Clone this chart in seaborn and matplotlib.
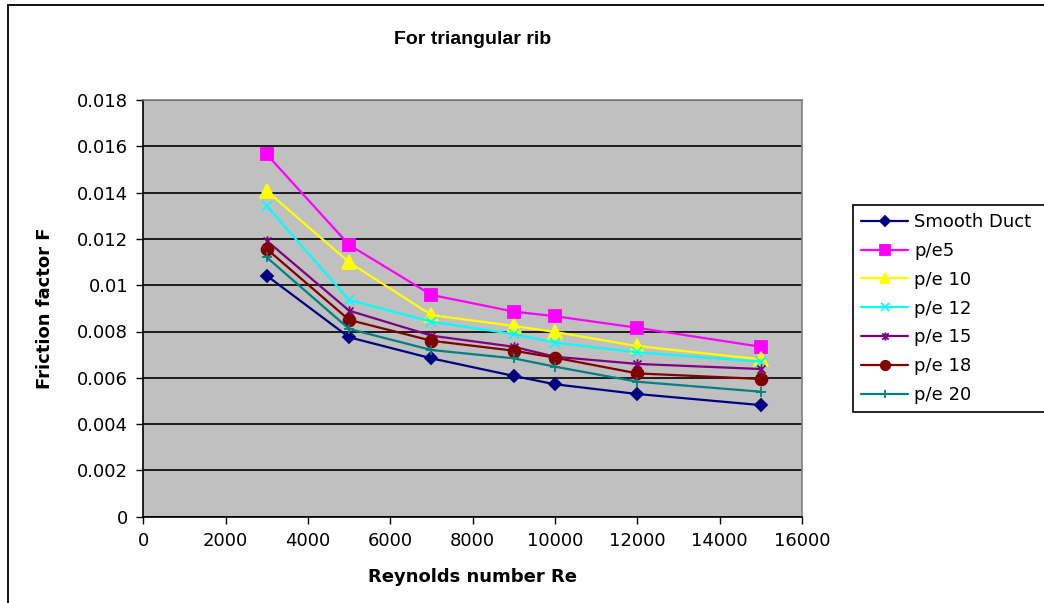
import matplotlib
matplotlib.use("Agg")
import matplotlib.pyplot as plt
import numpy as np
import pandas as pd
import seaborn as sns
from matplotlib.patches import Rectangle
from matplotlib.path import Path

# ---- data ----
reynolds = [3000, 5000, 7000, 9000, 10000, 12000, 15000]
smooth_duct = [0.01041, 0.00775, 0.00684, 0.00608, 0.00572, 0.00530, 0.00482]
pe5 = [0.01565, 0.01174, 0.00958, 0.00886, 0.00866, 0.00816, 0.00734]
pe10 = [0.01407, 0.01099, 0.00871, 0.00824, 0.00798, 0.00737, 0.00680]
pe12 = [0.01342, 0.00936, 0.00842, 0.00789, 0.00752, 0.00710, 0.00670]
pe15 = [0.01192, 0.00890, 0.00782, 0.00734, 0.00691, 0.00660, 0.00638]
pe18 = [0.01156, 0.00850, 0.00760, 0.00717, 0.00687, 0.00619, 0.00595]
pe20 = [0.01120, 0.00811, 0.00720, 0.00684, 0.00648, 0.00583, 0.00540]

series_names = ["Smooth Duct", "p/e5", "p/e 10", "p/e 12", "p/e 15", "p/e 18", "p/e 20"]
series_values = [smooth_duct, pe5, pe10, pe12, pe15, pe18, pe20]
colors = ["#000080", "#FF00FF", "#FFFF00", "#00FFFF", "#800080", "#800000", "#008080"]

x_ticks = [0, 2000, 4000, 6000, 8000, 10000, 12000, 14000, 16000]
x_tick_labels = ["0", "2000", "4000", "6000", "8000", "10000", "12000", "14000", "16000"]
y_ticks = [0, 0.002, 0.004, 0.006, 0.008, 0.01, 0.012, 0.014, 0.016, 0.018]
y_tick_labels = ["0", "0.002", "0.004", "0.006", "0.008", "0.01", "0.012", "0.014", "0.016", "0.018"]

title = "For triangular rib"
x_label = "Reynolds number Re"
y_label = "Friction factor F"

sns.set_theme(style="ticks")
plt.rcParams["font.family"] = ["DejaVu Sans"]
plt.rcParams["text.color"] = "black"
plt.rcParams["axes.labelcolor"] = "black"
plt.rcParams["xtick.color"] = "black"
plt.rcParams["ytick.color"] = "black"

W, H = 1044, 603
fig = plt.figure(figsize=(W / 100, H / 100), dpi=100)
fig.patch.set_facecolor("white")
L, R, T, B = 143.3, 802.0, 100.0, 516.7
ax = fig.add_axes([L / W, 1 - B / H, (R - L) / W, (B - T) / H])

asterisk = Path([(-1, -1), (1, 1), (-1, 1), (1, -1), (0, -1.3), (0, 1.3)],
                [Path.MOVETO, Path.LINETO, Path.MOVETO, Path.LINETO, Path.MOVETO, Path.LINETO])
markers = ["D", "s", "^", "x", asterisk, "o", "+"]
msizes = [6.5, 8.5, 9.5, 7.5, 7.5, 8.5, 7.5]

for name, vals, c, m, ms in zip(series_names, series_values, colors, markers, msizes):
    df = pd.DataFrame({"Re": reynolds, "F": vals})
    sns.lineplot(data=df, x="Re", y="F", color=c, marker=m, markersize=ms,
                 markeredgecolor=c, markerfacecolor=c, markeredgewidth=1.3,
                 linewidth=1.6, label=name, ax=ax, sort=False, legend=False)

ax.set_facecolor("#C0C0C0")
ax.set_xlim(0, 16000)
ax.set_ylim(0, 0.018)
ax.set_xticks(x_ticks)
ax.set_xticklabels(x_tick_labels)
ax.set_yticks(y_ticks)
ax.set_yticklabels(y_tick_labels)
ax.tick_params(direction="out", length=5, width=1, color="black", labelsize=13,
               labelcolor="black", pad=6)
ax.yaxis.grid(True, color="black", linewidth=1.2)
ax.xaxis.grid(False)
ax.set_axisbelow(True)
for s in ["left", "bottom"]:
    ax.spines[s].set_color("black")
    ax.spines[s].set_linewidth(1.2)
for s in ["top", "right"]:
    ax.spines[s].set_visible(True)
    ax.spines[s].set_color("#808080")
    ax.spines[s].set_linewidth(1.2)

ax.set_xlabel(x_label, fontsize=13, fontweight="bold", va="center", color="black")
ax.set_ylabel(y_label, fontsize=13, fontweight="bold", va="center", color="black")
ax.xaxis.set_label_coords((472.5 - L) / (R - L), (B - 577) / (B - T))
ax.yaxis.set_label_coords((45 - L) / (R - L), 0.5)

fig.text(472.5 / W, 1 - 40 / H, title, ha="center", va="center", color="black",
         fontsize=14, fontweight="bold", family=["Liberation Sans", "DejaVu Sans"])

# outer chart border
fig.patches.append(Rectangle((8 / W, -0.05), 1.2, (1 - 5 / H) + 0.05,
                             transform=fig.transFigure, fill=False,
                             edgecolor="black", linewidth=1.3, clip_on=False))

leg = ax.legend(handles=list(ax.lines[:len(series_names)]), labels=series_names,
                loc="upper left", bbox_to_anchor=(853 / W, 0, 250 / W, 1 - 205 / H),
                bbox_transform=fig.transFigure, mode="expand", frameon=True, fancybox=False,
                edgecolor="black", facecolor="white", framealpha=1,
                borderaxespad=0, borderpad=0.45, fontsize=13,
                handlelength=2.6, handletextpad=0.35, labelspacing=0.6)
leg.get_frame().set_linewidth(1.2)
for t in leg.get_texts():
    t.set_color("black")
for h in leg.legend_handles:
    h.set_markersize(h.get_markersize() * 0.8)

fig.savefig("out.png", dpi=100)
